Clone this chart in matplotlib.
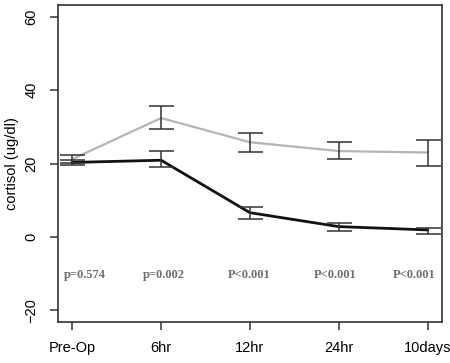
import matplotlib.pyplot as plt
import numpy as np

# time points and cortisol means / error bar limits
etiquetas = ['Pre-Op', '6hr', '12hr', '24hr', '10days']
gris_media = [21.2, 32.4, 25.8, 23.4, 23.0]
gris_bajo = [20.1, 29.3, 23.1, 21.3, 19.3]
gris_alto = [22.3, 35.7, 28.3, 25.8, 26.3]
negro_media = [20.3, 20.9, 6.6, 2.8, 1.9]
negro_bajo = [19.5, 19.0, 4.8, 1.5, 0.9]
negro_alto = [21.0, 23.4, 8.1, 3.7, 2.4]
p_textos = ['p=0.574', 'p=0.002', 'P<0.001', 'P<0.001', 'P<0.001']
p_x = [1.14, 2.03, 2.99, 3.96, 4.85]
p_y = -10.4

x = np.arange(1, len(etiquetas) + 1)

fig = plt.figure(figsize=(4.5, 3.63), dpi=100)
ax = fig.add_axes([0.129, 0.113, 0.853, 0.873])

borde = '#333333'

# lines
ax.plot(x, gris_media, color='#b4b4b4', linewidth=1.6, zorder=2)
ax.plot(x, negro_media, color='#111111', linewidth=2.0, zorder=2)

# error bars
for medias, bajo, alto in [(gris_media, gris_bajo, gris_alto),
                           (negro_media, negro_bajo, negro_alto)]:
    yerr = [np.array(medias) - np.array(bajo), np.array(alto) - np.array(medias)]
    ax.errorbar(x, medias, yerr=yerr, fmt='none', ecolor=borde,
                elinewidth=1.1, capsize=9, capthick=1.1, zorder=3)

# p values
for xp, txt in zip(p_x, p_textos):
    ax.text(xp, p_y, txt, ha='center', va='center', color='#6e6e6e',
            fontsize=9, fontweight='bold', family='Liberation Serif')

ax.set_xlim(0.84, 5.16)
ax.set_ylim(-23.2, 63.2)

ax.set_yticks([-20, 0, 20, 40, 60])
ax.set_yticklabels(['\u221220', '0', '20', '40', '60'], rotation=90,
                   va='center', family='Liberation Sans', fontsize=10.5)
ax.set_xticks(x)
ax.set_xticklabels(etiquetas, family='Liberation Sans', fontsize=10.5)
ax.set_ylabel('cortisol (ug/dl)', family='Liberation Sans', fontsize=10.5,
              labelpad=4)

ax.tick_params(axis='both', length=6, width=1.1, color=borde, pad=8)
for lado in ax.spines.values():
    lado.set_color(borde)
    lado.set_linewidth(1.2)

fig.savefig('out.png', dpi=100)
